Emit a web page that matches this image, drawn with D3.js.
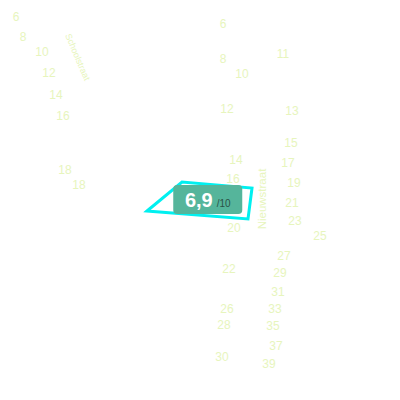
<!DOCTYPE html>
<html>
<head>
<meta charset="utf-8">
<script src="https://cdn.jsdelivr.net/npm/d3@7"></script>
<style>
  html, body { margin: 0; padding: 0; background: #fff; }
  svg { display: block; font-family: "Liberation Sans", Arial, sans-serif; }
</style>
</head>
<body>
<svg id="map" width="400" height="400"></svg>
<script>
// House numbers (label, easting m, northing m from top-left of view)
const houseLabels = ["6", "8", "10", "12", "14", "16", "18", "18",
  "6", "8", "10", "11", "12", "13", "15", "14", "17", "16", "19", "21", "23", "25", "20",
  "27", "22", "29", "31", "26", "33", "28", "35", "37", "30", "39"];
const houseX = [8, 11.5, 21, 24.5, 28, 31.5, 32.5, 39.5,
  111.5, 111.5, 121, 141.5, 113.5, 146, 145.5, 118, 144, 116.5, 147, 146, 147.5, 160, 117,
  142, 114.5, 140, 139, 113.5, 137.5, 112, 136.5, 138, 111, 134.5];
const houseY = [8.5, 18.5, 26, 36.5, 47.5, 58, 85, 92.5,
  12, 29.5, 37, 27, 54.5, 55.5, 71.5, 80, 81.5, 89.5, 91.5, 101.5, 110.5, 118, 114,
  128, 134.5, 136.5, 146, 154.5, 154.5, 162.5, 163, 173, 178.5, 182];

// Street names
const streetNames = ["Schoolstraat", "Nieuwstraat"];
const streetX = [38.8, 131];
const streetY = [28.5, 99.5];
const streetAngle = [67, -90];

// Selected parcel outline
const parcelX = [73.5, 91, 126, 124];
const parcelY = [105.5, 91, 94, 109.5];

// Score
const score = 6.9;
const scoreMax = 10;

const width = 400, height = 400;
const x = d3.scaleLinear().domain([0, 200]).range([0, width]);
const y = d3.scaleLinear().domain([0, 200]).range([0, height]);

const nl = d3.formatLocale({ decimal: ",", thousands: ".", grouping: [3], currency: ["€", ""] });
const fmt = nl.format(".1f");

const svg = d3.select("#map");
const textColor = "#e7f5bd";

// House numbers
svg.append("g")
  .selectAll("text")
  .data(houseLabels)
  .join("text")
  .attr("x", (d, i) => x(houseX[i]))
  .attr("y", (d, i) => y(houseY[i]))
  .attr("text-anchor", "middle")
  .attr("dominant-baseline", "central")
  .attr("font-size", 12)
  .attr("fill", textColor)
  .text(d => d);

// Street names
svg.append("g")
  .selectAll("text")
  .data(streetNames)
  .join("text")
  .attr("transform", (d, i) => `translate(${x(streetX[i])},${y(streetY[i])}) rotate(${streetAngle[i]})`)
  .attr("text-anchor", "middle")
  .attr("dominant-baseline", "central")
  .attr("font-size", (d, i) => i === 0 ? 9 : 11.5)
  .attr("fill", textColor)
  .text(d => d);

// Parcel
const line = d3.line().x(d => x(d[0])).y(d => y(d[1])).curve(d3.curveLinearClosed);
const parcel = parcelX.map((v, i) => [v, parcelY[i]]);
svg.append("path")
  .attr("d", line(parcel))
  .attr("fill", "none")
  .attr("stroke", "#00f0f0")
  .attr("stroke-width", 3)
  .attr("stroke-linejoin", "miter");

// Score badge centred on parcel
const cx = d3.mean(parcel, d => x(d[0])) + 0.5;
const cy = d3.mean(parcel, d => y(d[1])) - 0.5;
const badge = svg.append("g").attr("transform", `translate(${cx},${cy})`);
badge.append("rect")
  .attr("x", -34.5).attr("y", -14.5)
  .attr("width", 69).attr("height", 29)
  .attr("rx", 4)
  .attr("fill", "#55b59b");
const t = badge.append("text")
  .attr("y", 7)
  .attr("text-anchor", "middle");
t.append("tspan")
  .attr("font-size", 20)
  .attr("font-weight", "bold")
  .attr("fill", "#fff")
  .text(fmt(score));
t.append("tspan")
  .attr("dx", 4)
  .attr("font-size", 10)
  .attr("fill", "#2b5247")
  .text("/" + scoreMax);
</script>
</body>
</html>
